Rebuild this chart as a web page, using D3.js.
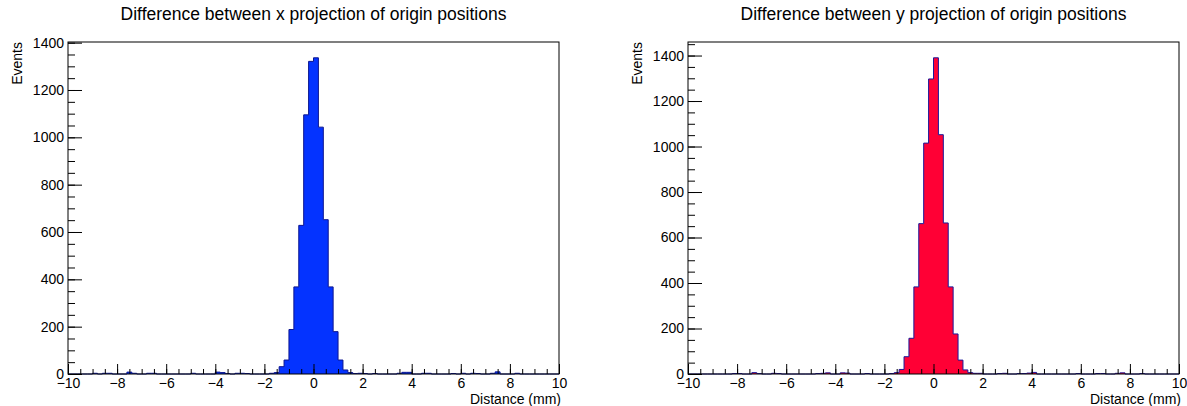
<!DOCTYPE html>
<html>
<head>
<meta charset="utf-8">
<script src="https://cdn.jsdelivr.net/npm/d3@7"></script>
<style>
  body { margin: 0; background: #fff; }
  svg { display: block; font-family: "Liberation Sans", Arial, Helvetica, sans-serif; }
</style>
</head>
<body>
<div id="chart"></div>
<script>
// histogram binning: 100 bins of 0.2 mm from -10 to 10
var binLow = -10;
var binHigh = 10;
var nBins = 100;

// counts per bin, x projection difference
var countsX = [
  0, 0, 0, 0, 0, 3, 0, 3, 3, 0,
  0, 0, 8, 3, 0, 0, 3, 3, 0, 0,
  0, 0, 0, 0, 0, 3, 0, 0, 0, 0,
  8, 6, 2, 0, 3, 3, 2, 0, 0, 0,
  0, 3, 6, 31, 59, 188, 368, 628, 1095, 1321,
  1336, 1043, 652, 368, 179, 59, 17, 6, 2, 3,
  2, 0, 2, 0, 0, 0, 0, 3, 7, 7,
  0, 0, 3, 3, 0, 0, 0, 0, 2, 0,
  3, 0, 3, 2, 0, 0, 3, 9, 0, 0,
  0, 3, 0, 0, 0, 0, 0, 0, 0, 0
];

// counts per bin, y projection difference
var countsY = [
  0, 0, 0, 0, 0, 0, 0, 0, 0, 2,
  2, 0, 0, 6, 2, 0, 0, 3, 2, 0,
  0, 0, 0, 0, 0, 0, 2, 3, 5, 0,
  0, 5, 4, 0, 0, 0, 2, 0, 0, 0,
  0, 2, 6, 20, 76, 157, 383, 661, 1015, 1297,
  1390, 1052, 664, 383, 176, 61, 18, 6, 3, 3,
  0, 0, 0, 2, 3, 0, 0, 2, 2, 4,
  7, 0, 0, 0, 0, 0, 0, 0, 0, 2,
  0, 0, 0, 2, 2, 0, 0, 3, 5, 0,
  0, 0, 2, 0, 0, 0, 0, 0, 0, 0
];

var xMajorTicks = [-10, -8, -6, -4, -2, 0, 2, 4, 6, 8, 10];
var yMajorTicks = [0, 200, 400, 600, 800, 1000, 1200, 1400];

var titles = [
  "Difference between x projection of origin positions",
  "Difference between y projection of origin positions"
];
var xTitle = "Distance (mm)";
var yTitle = "Events";

//Define svg dimensions
var svgWidth = 1187;
var svgHeight = 406;

var svg = d3.select("#chart")
  .append("svg")
  .attr("width", svgWidth)
  .attr("height", svgHeight);

// one pad per histogram
var pads = [
  { left: 68, right: 559, counts: countsX, fill: "#0433ff", line: "#0d1690", title: titles[0] },
  { left: 688, right: 1179, counts: countsY, fill: "#ff0035", line: "#1a1899", title: titles[1] }
];
var frameTop = 42;
var frameBottom = 374;

var binWidth = (binHigh - binLow) / nBins;

function drawPad(pad) {
  var g = svg.append("g");

  var x = d3.scaleLinear()
    .domain([binLow, binHigh])
    .range([pad.left, pad.right]);

  // ROOT style: frame max at 1.05 * highest bin
  var y = d3.scaleLinear()
    .domain([0, d3.max(pad.counts) * 1.05])
    .range([frameBottom, frameTop]);

  // step outline of the histogram
  var pts = [[x(binLow), y(0)]];
  pad.counts.forEach(function(c, i) {
    var lo = binLow + i * binWidth;
    var hi = lo + binWidth;
    pts.push([x(lo), y(c)]);
    pts.push([x(hi), y(c)]);
  });
  pts.push([x(binHigh), y(0)]);

  g.append("path")
    .attr("d", d3.line()(pts))
    .attr("fill", pad.fill)
    .attr("stroke", pad.line)
    .attr("stroke-width", 1);

  // x axis, ticks pointing inward
  var xMinor = d3.range(binLow, binHigh + 0.001, 0.5);
  g.append("g")
    .attr("transform", `translate(0, ${frameBottom})`)
    .call(d3.axisBottom(x).tickValues(xMinor).tickSize(-5).tickFormat(""))
    .call(a => a.select(".domain").remove());

  var xAxis = g.append("g")
    .attr("transform", `translate(0, ${frameBottom})`)
    .call(d3.axisBottom(x).tickValues(xMajorTicks).tickSize(-10).tickPadding(4).tickFormat(d3.format("d")));
  xAxis.select(".domain").remove();
  xAxis.selectAll("text")
    .attr("font-size", 14)
    .attr("font-family", "Liberation Sans, Arial, sans-serif")
    .attr("fill", "#000");

  // y axis
  var yMinor = d3.range(0, y.domain()[1], 50);
  g.append("g")
    .attr("transform", `translate(${pad.left}, 0)`)
    .call(d3.axisLeft(y).tickValues(yMinor).tickSize(-7).tickFormat(""))
    .call(a => a.select(".domain").remove());

  var yAxis = g.append("g")
    .attr("transform", `translate(${pad.left}, 0)`)
    .call(d3.axisLeft(y).tickValues(yMajorTicks).tickSize(-14).tickPadding(4).tickFormat(d3.format("d")));
  yAxis.select(".domain").remove();
  yAxis.selectAll("text")
    .attr("font-size", 14)
    .attr("font-family", "Liberation Sans, Arial, sans-serif")
    .attr("fill", "#000");

  g.selectAll(".tick line").attr("stroke", "#000");

  // frame
  g.append("rect")
    .attr("x", pad.left)
    .attr("y", frameTop)
    .attr("width", pad.right - pad.left)
    .attr("height", frameBottom - frameTop)
    .attr("fill", "none")
    .attr("stroke", "#000")
    .attr("stroke-width", 1);

  // titles
  g.append("text")
    .attr("x", (pad.left + pad.right) / 2)
    .attr("y", 20)
    .attr("text-anchor", "middle")
    .attr("font-size", 17.5)
    .text(pad.title);

  g.append("text")
    .attr("x", pad.right + 2)
    .attr("y", 404)
    .attr("text-anchor", "end")
    .attr("font-size", 14)
    .text(xTitle);

  g.append("text")
    .attr("transform", `translate(${pad.left - 46}, ${frameTop}) rotate(-90)`)
    .attr("text-anchor", "end")
    .attr("font-size", 14)
    .text(yTitle);
}

pads.forEach(drawPad);
</script>
</body>
</html>
